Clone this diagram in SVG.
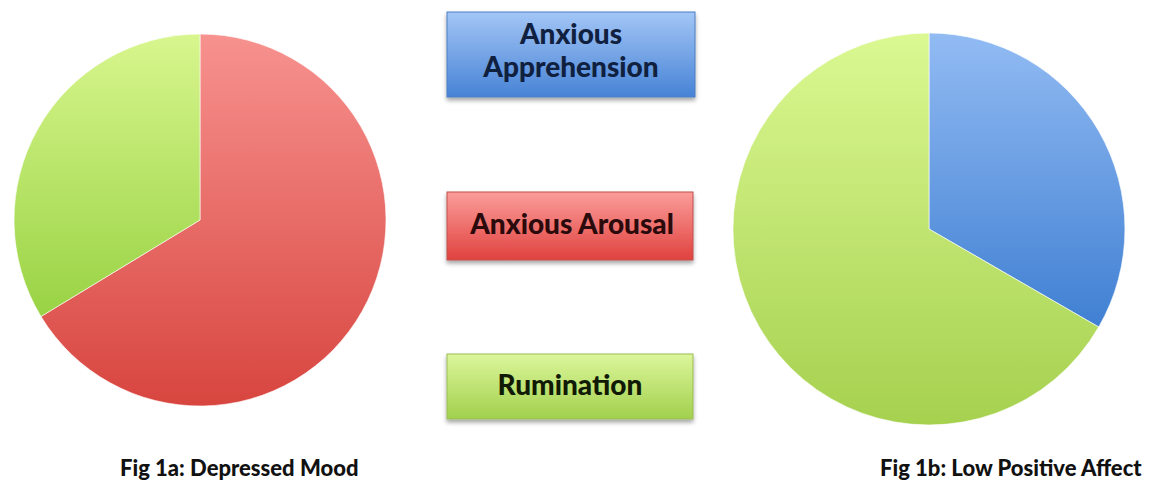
<svg xmlns="http://www.w3.org/2000/svg" width="1160" height="491" viewBox="0 0 1160 491">
<defs>
<linearGradient id="pieRedL" gradientUnits="userSpaceOnUse" x1="0" y1="34" x2="0" y2="406"><stop offset="0" stop-color="#f7928f"/><stop offset="1" stop-color="#d8453f"/></linearGradient>
<linearGradient id="pieGreenL" gradientUnits="userSpaceOnUse" x1="0" y1="34" x2="0" y2="320"><stop offset="0" stop-color="#d8f68e"/><stop offset="1" stop-color="#98d243"/></linearGradient>
<linearGradient id="pieBlueR" gradientUnits="userSpaceOnUse" x1="0" y1="33" x2="0" y2="330"><stop offset="0" stop-color="#92bbf3"/><stop offset="1" stop-color="#3f7fd2"/></linearGradient>
<linearGradient id="pieGreenR" gradientUnits="userSpaceOnUse" x1="0" y1="33" x2="0" y2="425"><stop offset="0" stop-color="#dbf892"/><stop offset="1" stop-color="#a6d14f"/></linearGradient>
<linearGradient id="boxBlue" x1="0" y1="0" x2="0" y2="1"><stop offset="0" stop-color="#a3c6f6"/><stop offset="1" stop-color="#4783d6"/></linearGradient>
<linearGradient id="boxRed" x1="0" y1="0" x2="0" y2="1"><stop offset="0" stop-color="#fb9d9a"/><stop offset="1" stop-color="#e0423f"/></linearGradient>
<linearGradient id="boxGreen" x1="0" y1="0" x2="0" y2="1"><stop offset="0" stop-color="#dcf69b"/><stop offset="1" stop-color="#a2d04d"/></linearGradient>
<filter id="shadow" x="-10%" y="-20%" width="120%" height="150%"><feDropShadow dx="0" dy="3" stdDeviation="2" flood-color="#000" flood-opacity="0.35"/></filter>
</defs>
<style>
.lbl{font-family:Lato,"Open Sans","Liberation Sans",sans-serif;font-weight:900;font-size:28px;text-anchor:middle}
.cap{font-family:Lato,"Open Sans","Liberation Sans",sans-serif;font-weight:900;font-size:22px;fill:#111}
.box{stroke-width:1}
.slice{stroke:#fff;stroke-width:1;stroke-opacity:0.6}
</style>
<rect width="1160" height="491" fill="#fff"/>
<g id="pie-1a">
<path class="slice" d="M200,220 L200,34 A186,186 0 1 1 41,316.5 Z" fill="url(#pieRedL)"/>
<path class="slice" d="M200,220 L41,316.5 A186,186 0 0 1 200,34 Z" fill="url(#pieGreenL)"/>
</g>
<g id="pie-1b">
<path class="slice" d="M929,229 L929,33 A196,196 0 0 1 1098.7,327 Z" fill="url(#pieBlueR)"/>
<path class="slice" d="M929,229 L1098.7,327 A196,196 0 1 1 929,33 Z" fill="url(#pieGreenR)"/>
</g>
<g id="legend-apprehension">
<rect class="box" x="447" y="12" width="248" height="85" fill="url(#boxBlue)" stroke="#4a7fc4" filter="url(#shadow)"/>
<text class="lbl" x="571" y="44" fill="#10203f">Anxious</text>
<text class="lbl" x="571" y="77" fill="#10203f">Apprehension</text>
</g>
<g id="legend-arousal">
<rect class="box" x="447" y="192" width="246" height="68" fill="url(#boxRed)" stroke="#c0504d" filter="url(#shadow)"/>
<text class="lbl" x="572" y="234" fill="#2a0a0a">Anxious Arousal</text>
</g>
<g id="legend-rumination">
<rect class="box" x="447" y="354" width="246" height="65" fill="url(#boxGreen)" stroke="#9bbb59" filter="url(#shadow)"/>
<text class="lbl" x="570" y="395" fill="#111a05">Rumination</text>
</g>
<g id="captions">
<text class="cap" x="120" y="476">Fig 1a: Depressed Mood</text>
<text class="cap" x="880" y="476">Fig 1b: Low Positive Affect</text>
</g>
<g id="connectors"/>
</svg>
